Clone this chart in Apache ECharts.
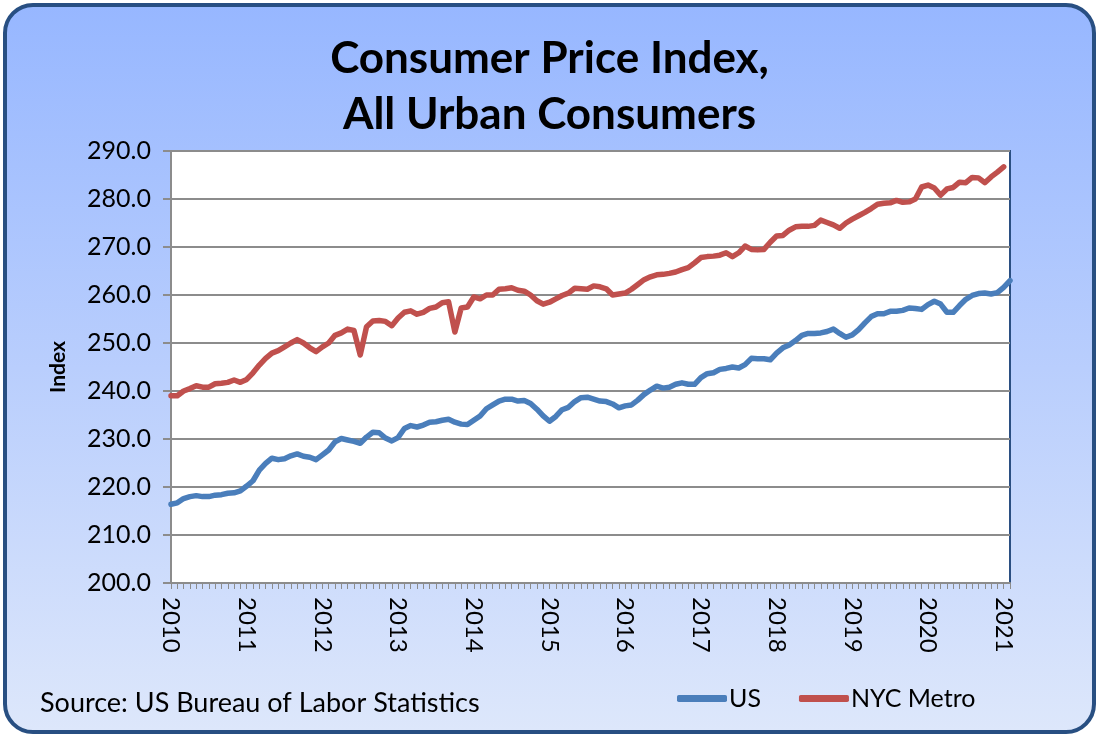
<!DOCTYPE html>
<html>
<head>
<meta charset="utf-8">
<script src="https://cdn.jsdelivr.net/npm/echarts@6/dist/echarts.min.js"></script>
<style>
html,body{margin:0;padding:0;width:1099px;height:737px;background:#ffffff;overflow:hidden;}
#frame{position:absolute;left:3px;top:3px;width:1085px;height:723px;border:4px solid #284f82;border-radius:30px;
background:linear-gradient(to bottom,#97b7ff 0%,#b9cefd 50%,#dde7fb 100%);}
#chart{position:absolute;left:0;top:0;width:1099px;height:737px;}
</style>
</head>
<body>
<div id="frame"></div>
<div id="chart"></div>
<script>
// Monthly categories Jan 2010 - Feb 2021
const years = [2010,2011,2012,2013,2014,2015,2016,2017,2018,2019,2020,2021];
const months = ['01','02','03','04','05','06','07','08','09','10','11','12'];
const categories = [];
years.forEach(y => months.forEach(m => { if (!(y === 2021 && m > '02')) categories.push(y + '-' + m); }));

const yTicks = [200,210,220,230,240,250,260,270,280,290];

// US CPI-U, index values
const usValues = [
216.4,216.7,217.6,218.0,218.2,218.0,218.0,218.3,218.4,218.7,218.8,219.2,
220.2,221.3,223.5,224.9,226.0,225.7,225.9,226.5,226.9,226.4,226.2,225.7,
226.7,227.7,229.4,230.1,229.8,229.5,229.1,230.4,231.4,231.3,230.2,229.6,
230.3,232.2,232.8,232.5,232.9,233.5,233.6,233.9,234.1,233.5,233.1,233.0,
233.9,234.8,236.3,237.1,237.9,238.3,238.3,237.9,238.0,237.4,236.2,234.8,
233.7,234.7,236.1,236.6,237.8,238.6,238.7,238.3,237.9,237.8,237.3,236.5,
236.9,237.1,238.1,239.3,240.2,241.0,240.6,240.8,241.4,241.7,241.4,241.4,
242.8,243.6,243.8,244.5,244.7,245.0,244.8,245.5,246.8,246.7,246.7,246.5,
247.9,249.0,249.6,250.5,251.6,252.0,252.0,252.1,252.4,252.9,252.0,251.2,
251.7,252.8,254.2,255.5,256.1,256.1,256.6,256.6,256.8,257.3,257.2,257.0,
258.0,258.7,258.1,256.4,256.4,257.8,259.1,259.9,260.3,260.4,260.2,260.5,
261.6,263.0
];

// NYC Metro CPI-U, index values (through Jan 2021)
const nycValues = [
239.0,239.0,240.0,240.5,241.1,240.8,240.8,241.5,241.6,241.8,242.3,241.8,
242.4,243.8,245.4,246.8,247.9,248.4,249.2,250.0,250.7,250.0,249.0,248.2,
249.2,250.0,251.6,252.1,252.9,252.6,247.5,253.4,254.6,254.7,254.5,253.6,
255.2,256.4,256.7,256.0,256.4,257.2,257.5,258.4,258.6,252.3,257.3,257.5,
259.6,259.2,260.0,260.0,261.2,261.3,261.5,261.0,260.8,260.0,258.8,258.1,
258.5,259.2,259.9,260.4,261.4,261.3,261.2,261.9,261.7,261.3,260.0,260.2,
260.4,261.2,262.2,263.2,263.8,264.2,264.3,264.5,264.8,265.3,265.7,266.7,
267.8,268.0,268.1,268.3,268.8,268.0,268.8,270.2,269.5,269.4,269.5,271.0,
272.3,272.4,273.5,274.2,274.3,274.3,274.5,275.6,275.1,274.6,273.9,275.0,
275.8,276.5,277.2,278.0,278.9,279.1,279.2,279.7,279.3,279.4,280.0,282.5,
282.9,282.3,280.8,282.1,282.4,283.5,283.4,284.5,284.4,283.4,284.6,285.6,
286.7
];

const seriesNames = ['US','NYC Metro'];
const titleText = 'Consumer Price Index,\nAll Urban Consumers';
const sourceText = 'Source: US Bureau of Labor Statistics';

const FONT = 'Lato';
const chart = echarts.init(document.getElementById('chart'), null, {renderer:'canvas'});
chart.setOption({
  backgroundColor: 'transparent',
  animation: false,
  title: {
    text: titleText,
    left: 'center',
    top: 26,
    textStyle: {fontFamily: FONT, fontSize: 44, fontWeight: 'bold', color: '#000', lineHeight: 56}
  },
  grid: {
    left: 171, right: 89, top: 151, bottom: 154,
    show: true, backgroundColor: '#ffffff', borderColor: '#2b4f82', borderWidth: 2
  },
  legend: {
    data: seriesNames,
    left: 672, top: 681,
    icon: 'roundRect',
    itemWidth: 50, itemHeight: 7, itemGap: 38,
    textStyle: {fontFamily: FONT, fontSize: 25, color: '#000', padding: [0,0,0,-3]}
  },
  graphic: [{
    type: 'text', left: 40, top: 690,
    style: {text: sourceText, fontFamily: FONT, fontSize: 27, fill: '#000'}
  }],
  xAxis: {
    type: 'category',
    data: categories,
    boundaryGap: false,
    axisLine: {lineStyle: {color: '#8c8c8c', width: 2}},
    axisTick: {show: true, interval: 0, length: 6, lineStyle: {color: '#8c8c8c', width: 1}},
    axisLabel: {
      interval: (i) => i % 12 === 0,
      formatter: (v) => v.slice(0,4),
      rotate: -90, margin: 14,
      fontFamily: FONT, fontSize: 24, color: '#000'
    },
    splitLine: {show: false}
  },
  yAxis: {
    type: 'value',
    min: yTicks[0], max: yTicks[yTicks.length-1], interval: 10,
    name: 'Index',
    nameLocation: 'middle',
    nameGap: 102,
    nameRotate: 90,
    nameTextStyle: {fontFamily: FONT, fontSize: 21, fontWeight: 'bold', color: '#000'},
    axisLine: {show: true, lineStyle: {color: '#8c8c8c', width: 2}},
    axisTick: {show: true, length: 8, lineStyle: {color: '#8c8c8c', width: 2}},
    axisLabel: {formatter: (v) => v.toFixed(1), margin: 20, fontFamily: FONT, fontSize: 25, color: '#000'},
    splitLine: {lineStyle: {color: '#8c8c8c', width: 2}}
  },
  series: [
    {name: seriesNames[0], type: 'line', data: usValues, showSymbol: false, symbol: 'none',
     lineStyle: {color: '#4a7ebb', width: 5.5, cap: 'round', join: 'round'}, itemStyle: {color: '#4a7ebb'}, z: 3},
    {name: seriesNames[1], type: 'line', data: nycValues, showSymbol: false, symbol: 'none',
     lineStyle: {color: '#c0504d', width: 5.5, cap: 'round', join: 'round'}, itemStyle: {color: '#c0504d'}, z: 3}
  ]
});
</script>
</body>
</html>
